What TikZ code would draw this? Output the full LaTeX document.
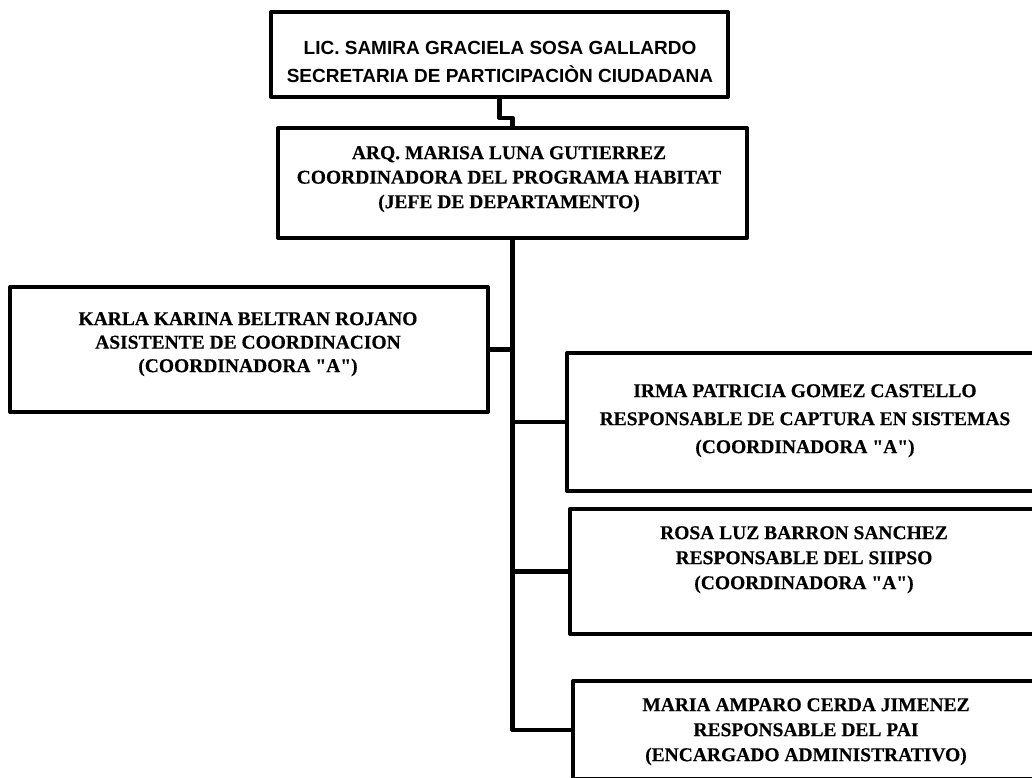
\documentclass[tikz,border=0pt]{standalone}
\usepackage{fontspec}
\setmainfont{Liberation Serif}[Ligatures=TeXOff, FakeBold=0.4]
\newfontfamily\arialf{Liberation Sans}
\newcommand{\dq}{\symbol{34}}
\usetikzlibrary{calc}
\begin{document}
\begin{tikzpicture}[x=1pt,y=-1pt,
  box/.style={draw=black, line width=4pt, fill=white, inner sep=0pt, rectangle, line join=round},
  lbl/.style={inner sep=0pt, align=center, anchor=north},
  serifb/.style={font=\bfseries\fontsize{19.5}{#1}\selectfont},
  link/.style={draw=black, line width=4.5pt, line join=round}]
\useasboundingbox (0,0) rectangle (1032,778);
\clip (0,0) rectangle (1032,778);
\fill[white] (0,0) rectangle (1032,778);

% boxes (shapes)
\node[box, minimum width=457pt, minimum height=85pt] (b1) at (499.5,54.5) {};
\node[box, minimum width=469pt, minimum height=110pt] (b2) at (512.5,183) {};
\node[box, minimum width=478pt, minimum height=125pt] (left) at (249,349.5) {};
\node[box, minimum width=476pt, minimum height=138pt] (irma) at (805,422) {};
\node[box, minimum width=470pt, minimum height=125pt] (rosa) at (805,571.5) {};
\node[box, minimum width=467pt, minimum height=98pt] (maria) at (806.5,730) {};

% connectors
\draw[link] (b1.south) -- ++(0,19) -| (b2.north);
\draw[link] (b2.south) |- (maria.west);
\draw[link] (left.east) -- (left.east -| b2.south);
\draw[link] (irma.west) -- (irma.west -| b2.south);
\draw[link] (rosa.west) -- (rosa.west -| b2.south);

% texts
\node[lbl, font=\arialf\bfseries\fontsize{19}{28.5}\selectfont] (t1) at (500,40.7)
  {LIC. SAMIRA GRACIELA SOSA GALLARDO\\SECRETARIA DE PARTICIPACIÒN CIUDADANA};
\node[lbl, serifb=24.5] (t2) at (509,146)
  {ARQ. MARISA LUNA GUTIERREZ\\COORDINADORA DEL PROGRAMA HABITAT\\(JEFE DE DEPARTAMENTO)};
\node[lbl, serifb=23.5] (t3) at (248,312)
  {KARLA KARINA BELTRAN ROJANO\\ASISTENTE DE COORDINACION\\(COORDINADORA \dq A\dq)};
\node[lbl, serifb=28] (t4) at (805,384)
  {IRMA PATRICIA GOMEZ CASTELLO\\RESPONSABLE DE CAPTURA EN SISTEMAS\\(COORDINADORA \dq A\dq)};
\node[lbl, serifb=25] (t5) at (804,526)
  {ROSA LUZ BARRON SANCHEZ\\RESPONSABLE DEL SIIPSO\\(COORDINADORA \dq A\dq)};
\node[lbl, serifb=25] (t6) at (806,698)
  {MARIA AMPARO CERDA JIMENEZ\\RESPONSABLE DEL PAI\\(ENCARGADO ADMINISTRATIVO)};
\end{tikzpicture}
\end{document}
